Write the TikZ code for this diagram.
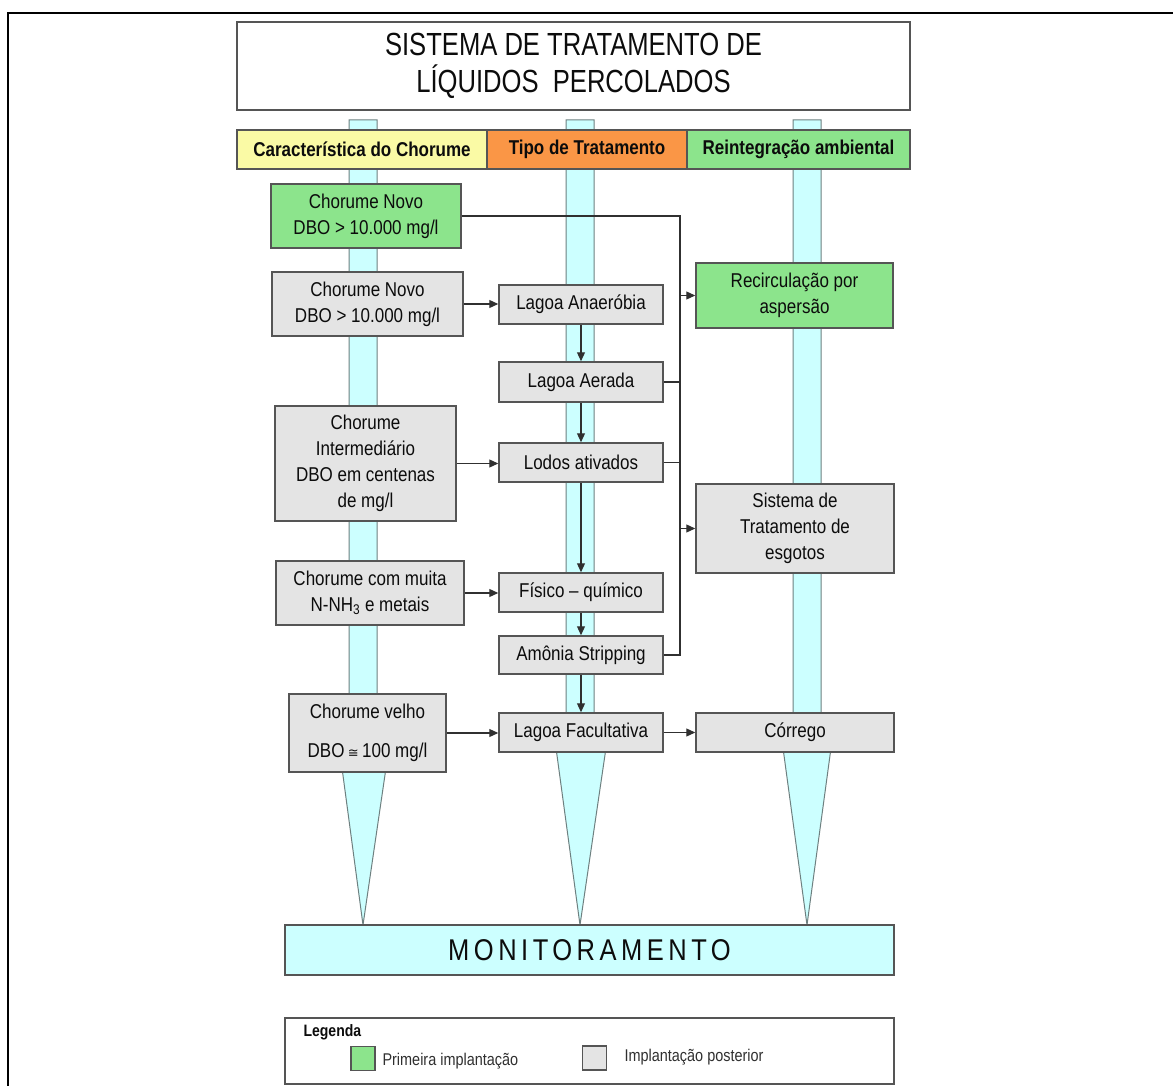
\documentclass[tikz,border=0pt]{standalone}
\usepackage{fontspec}
\setmainfont{Liberation Sans}[FakeStretch=0.85]
\newfontfamily\titlefont{Liberation Sans}[FakeStretch=0.8]
\newfontfamily\monfont{Liberation Sans}[FakeStretch=0.85,LetterSpace=15]
\newfontfamily\dvfont{DejaVu Sans}
\usetikzlibrary{arrows.meta}
\definecolor{boxgreen}{RGB}{140,228,140}
\definecolor{boxgray}{RGB}{228,228,228}
\definecolor{hdyellow}{RGB}{250,250,165}
\definecolor{hdorange}{RGB}{250,150,70}
\definecolor{pillar}{RGB}{204,255,255}
\definecolor{edge}{RGB}{85,85,85}
\definecolor{piledge}{RGB}{110,128,128}
\definecolor{txt}{RGB}{12,12,12}
\begin{document}
\begin{tikzpicture}[x=1pt,y=-1pt,
  base/.style={draw=edge, line width=1.5pt, inner sep=0pt, align=center, text=txt,
    font=\fontsize{20}{26}\selectfont},
  gbox/.style={base, fill=boxgreen},
  ybox/.style={base, fill=boxgray},
  hdr/.style={base, line width=1.2pt, minimum height=39pt, font=\bfseries\fontsize{20}{24}\selectfont},
  pil/.style={fill=pillar, draw=piledge, line width=1pt},
  arr/.style={draw=txt!85, line width=1.2pt, -{Triangle[length=9pt,width=8pt]}},
  lin/.style={draw=txt!85, line width=1.2pt},
  legtxt/.style={anchor=west, text=txt!85, font=\fontsize{17}{20}\selectfont}]
\useasboundingbox (0,0) rectangle (1173,1086);
\fill[white] (0,0) rectangle (1173,1086);
% outer frame
\draw[line width=2pt] (8,1086) -- (8,13) -- (1173,13);
% pillars
\path[pil] (349,120) -- (377,120) -- (377,768) -- (386,768) -- (363,925) -- (342,768) -- (349,768) -- cycle;
\path[pil] (566,120) -- (594,120) -- (594,748) -- (606,748) -- (580,925) -- (556,748) -- (566,748) -- cycle;
\path[pil] (793,120) -- (821,120) -- (821,748) -- (831,748) -- (807,925) -- (783,748) -- (793,748) -- cycle;
% title
\node[base, fill=white, line width=1.2pt, minimum width=673pt, minimum height=88pt,
  font=\titlefont\fontsize{32}{37}\selectfont] (title) at (573.5,66)
  {SISTEMA DE TRATAMENTO DE\\LÍQUIDOS\ \ PERCOLADOS};
% header
\node[hdr, fill=hdyellow, minimum width=250pt] (h1) at (362,149.5) {Característica do Chorume};
\node[hdr, fill=hdorange, minimum width=200pt] (h2) at (587,149.5) {Tipo de Tratamento};
\node[hdr, fill=boxgreen, minimum width=223pt] (h3) at (798.5,149.5) {Reintegração ambiental};
% left column
\node[gbox, minimum width=190pt, minimum height=64pt] (cn1) at (366,216) {Chorume Novo\\DBO > 10.000 mg/l};
\node[ybox, minimum width=191pt, minimum height=64pt] (cn2) at (367.5,304) {Chorume Novo\\DBO > 10.000 mg/l};
\node[ybox, minimum width=181pt, minimum height=115pt] (cint) at (365.5,463.5) {Chorume\\Intermediário\\DBO em centenas\\de mg/l};
\node[ybox, minimum width=188pt, minimum height=64pt] (cmuita) at (370,593) {Chorume com muita\\N-NH\textsubscript{3} e metais};
\node[ybox, minimum width=157pt, minimum height=78pt] (cvelho) at (367.5,733) {Chorume velho\\[13pt]DBO\,{\dvfont\fontsize{13}{13}\selectfont ≅}\,100 mg/l};
% middle column
\node[ybox, minimum width=164pt, minimum height=39pt] (anaer) at (581,304.5) {Lagoa Anaeróbia};
\node[ybox, minimum width=164pt, minimum height=40pt] (aerada) at (581,382) {Lagoa Aerada};
\node[ybox, minimum width=164pt, minimum height=39pt] (lodos) at (581,462.5) {Lodos ativados};
\node[ybox, minimum width=164pt, minimum height=39pt] (fisico) at (581,592.5) {Físico – químico};
\node[ybox, minimum width=164pt, minimum height=38pt] (amonia) at (581,655) {Amônia Stripping};
\node[ybox, minimum width=164pt, minimum height=39pt] (facult) at (581,732.5) {Lagoa Facultativa};
% right column
\node[gbox, minimum width=197pt, minimum height=65pt] (recirc) at (794.5,295.5) {Recirculação por\\aspersão};
\node[ybox, minimum width=198pt, minimum height=89pt] (sistema) at (795,528.5) {Sistema de\\Tratamento de\\esgotos};
\node[ybox, minimum width=198pt, minimum height=39pt] (corrego) at (795,732.5) {Córrego};
% monitoring
\node[base, fill=pillar, line width=1.2pt, minimum width=609pt, minimum height=50pt,
  font=\monfont\fontsize{30}{36}\selectfont] (monit) at (589.5,950) {MONITORAMENTO};
% legend
\node[draw=edge, line width=1.2pt, fill=white, minimum width=609pt, minimum height=66pt, inner sep=0pt] (legend) at (589.5,1051) {};
\node[anchor=west, text=txt, font=\bfseries\fontsize{16.5}{20}\selectfont] (legt) at (300,1032) {Legenda};
\node[draw=edge, fill=boxgreen, line width=1.2pt, minimum size=24pt, inner sep=0pt] (lg1) at (363,1058.5) {};
\node[legtxt] (lt1) at (379,1061) {Primeira implantação};
\node[draw=edge, fill=boxgray, line width=1.2pt, minimum size=24pt, inner sep=0pt] (lg2) at (594.5,1058) {};
\node[legtxt] (lt2) at (621,1057) {Implantação posterior};
% connectors: left to middle
\draw[arr] (cn2.east) -- (cn2.east -| anaer.west);
\draw[arr] (cint.east) -- (cint.east -| lodos.west);
\draw[arr] (cmuita.east) -- (cmuita.east -| fisico.west);
\draw[arr] (cvelho.east) -- (cvelho.east -| facult.west);
% middle chain
\draw[arr] (anaer.south) -- (aerada.north);
\draw[arr] (aerada.south) -- (lodos.north);
\draw[arr] (lodos.south) -- (fisico.north);
\draw[arr] (fisico.south) -- (amonia.north);
\draw[arr] (amonia.south) -- (facult.north);
\draw[arr] (facult.east) -- (corrego.west);
% collector
\coordinate (ctop) at (680,216);
\coordinate (cbot) at (680,655);
\draw[lin] (cn1.east) -- (ctop) -- (cbot) -- (amonia.east);
\draw[lin] (aerada.east) -- (aerada.east -| ctop);
\draw[lin] (lodos.east) -- (lodos.east -| ctop);
\draw[arr] (recirc.west -| ctop) -- (recirc.west);
\draw[arr] (sistema.west -| ctop) -- (sistema.west);
\end{tikzpicture}
\end{document}
